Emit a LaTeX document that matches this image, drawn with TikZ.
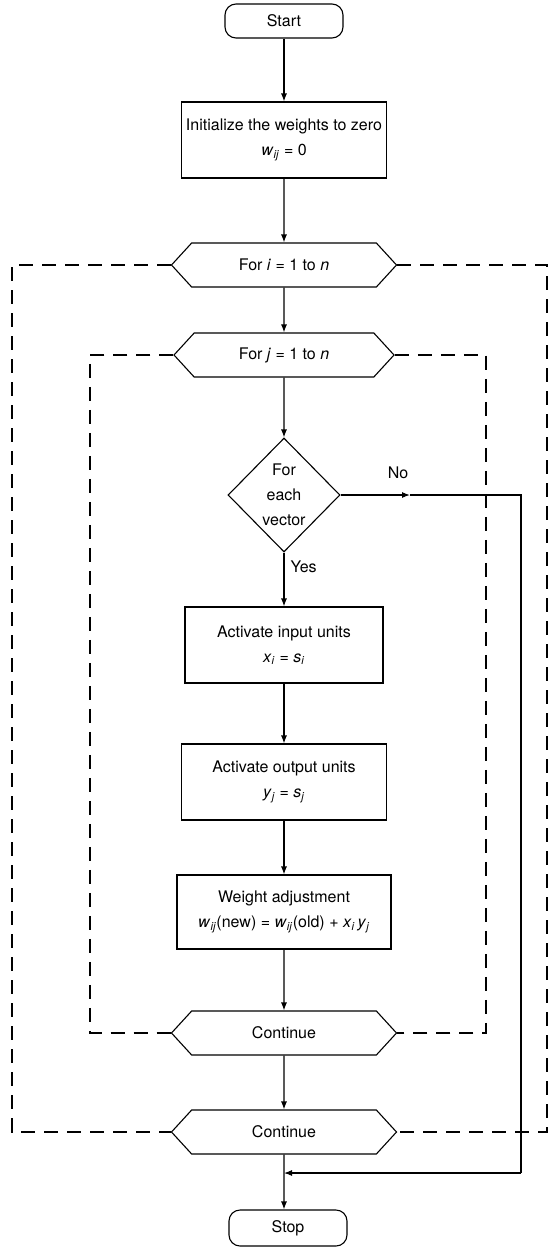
\documentclass[tikz,border=0pt]{standalone}
\usepackage{fontspec}
\setmainfont{TeX Gyre Heros}
\usetikzlibrary{arrows.meta, shapes.geometric, shapes.symbols}
\newcommand{\vsub}[2]{\textit{#1}\textsubscript{\textit{#2}}}

\tikzset{
  flow/.style={line width=1.1pt, -{Latex[length=8pt,width=6pt]}},
  plainline/.style={line width=1.1pt},
  loopline/.style={line width=1.1pt, dash pattern=on 14pt off 9pt},
  terminal/.style={draw, line width=1.1pt, rounded corners=11pt, minimum width=118pt, minimum height=34pt},
  procbox/.style={draw, line width=1.1pt, align=center, minimum width=205pt, minimum height=76pt},
  loophex/.style={draw, line width=1.1pt, signal, signal to=west and east, signal pointer angle=95, minimum width=225pt, minimum height=44pt},
  decide/.style={draw, line width=1.1pt, diamond, aspect=1, align=center, minimum width=112pt, minimum height=114pt, inner sep=0pt},
  every node/.style={font=\fontsize{16}{25}\selectfont}
}

\begin{document}
\begin{tikzpicture}[x=1pt, y=-1pt]
\useasboundingbox (0,0) rectangle (552,1247);

% Guide positions for the loops and the No branch
\coordinate (outL) at (12,0);
\coordinate (outR) at (547,0);
\coordinate (inL) at (90,0);
\coordinate (inR) at (486,0);
\coordinate (noR) at (521,0);
\coordinate (noArrow) at (410,0);
\coordinate (joinY) at (0,1173);

% Main column
\node[terminal] (start) at (284,21) {Start};
\node[procbox] (init) at (284,140) {Initialize the weights to zero\\ \vsub{w}{ij} = 0};
\node[loophex] (fori) at (284,265) {For \textit{i} = 1 to \textit{n}};
\node[loophex, minimum width=220pt] (forj) at (284,355) {For \textit{j} = 1 to \textit{n}};
\node[decide] (vec) at (284,495) {For\\each\\vector};
\node[procbox, minimum width=198pt] (actin) at (284,645) {Activate input units\\ \vsub{x}{i} = \vsub{s}{i}};
\node[procbox] (actout) at (284,782) {Activate output units\\ \vsub{y}{j} = \vsub{s}{j}};
\node[procbox, minimum width=214pt, minimum height=74pt] (wadj) at (284,912) {Weight adjustment\\ \vsub{w}{ij}(new) = \vsub{w}{ij}(old) + \vsub{x}{i}\,\vsub{y}{j}};
\node[loophex] (contin) at (284,1033) {Continue};
\node[loophex] (contout) at (284,1132) {Continue};
\node[terminal, minimum height=36pt] (stop) at (288,1228) {Stop};

% Labels
\node (nolab) at (398,473) {No};
\node[right] (yeslab) at (287,567) {Yes};

% Connectors
\draw[flow] (start) -- (init);
\draw[flow] (init) -- (fori);
\draw[flow] (fori) -- (forj);
\draw[flow] (forj) -- (vec);
\draw[flow] (vec) -- (actin);
\draw[flow] (actin) -- (actout);
\draw[flow] (actout) -- (wadj);
\draw[flow] (wadj) -- (contin);
\draw[flow] (contin) -- (contout);
\draw[flow] (contout) -- (contout |- stop.north);

% No branch
\draw[flow] (vec.east) -- (vec.east -| noArrow);
\draw[plainline] (vec.east -| noArrow) -- (vec.east -| noR) -- (noR |- joinY);
\draw[flow] (noR |- joinY) -- (contout |- joinY);

% Loop returns
\draw[loopline] (fori.west) -- (fori.west -| outL) |- (contout.west);
\draw[loopline] (fori.east) -- (fori.east -| outR) |- (contout.east);
\draw[loopline] (forj.west) -- (forj.west -| inL) |- (contin.west);
\draw[loopline] (forj.east) -- (forj.east -| inR) |- (contin.east);
\end{tikzpicture}
\end{document}
